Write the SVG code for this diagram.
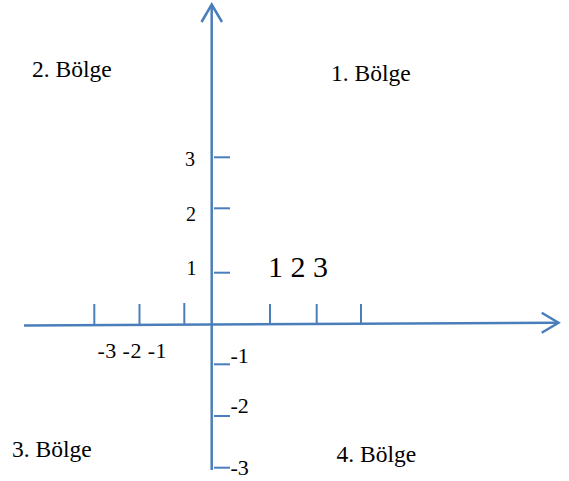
<svg xmlns="http://www.w3.org/2000/svg" width="569" height="481" viewBox="0 0 569 481">
<style>
.ax{stroke:#4a7ebb;stroke-width:2.5;fill:none;stroke-linecap:butt}
.tk{stroke:#4a7ebb;stroke-width:2;fill:none}
.t{font-family:"Liberation Serif","Times New Roman",serif;fill:#000}
.q{font-size:23.5px}
.n{font-size:20px}
.m{font-size:22px}
.big{font-size:30px}
</style>
<rect width="569" height="481" fill="#fff"/>
<g id="connectors">
<line class="ax" x1="211.7" y1="5" x2="211.7" y2="470"/>
<polyline class="ax" points="201.5,22 211.7,4.5 222,22"/>
<line class="ax" x1="24" y1="325.5" x2="557" y2="322.7"/>
<polyline class="ax" points="541.7,312.7 558.5,322.7 541.7,332.7"/>
</g>
<g id="ticks">
<line class="tk" x1="214" y1="157.3" x2="230" y2="157.3"/>
<line class="tk" x1="214" y1="208.3" x2="230" y2="208.3"/>
<line class="tk" x1="214" y1="272.7" x2="230" y2="272.7"/>
<line class="tk" x1="214" y1="364.3" x2="230" y2="364.3"/>
<line class="tk" x1="214" y1="416" x2="230" y2="416"/>
<line class="tk" x1="214" y1="467.7" x2="230" y2="467.7"/>
<line class="tk" x1="94.3" y1="304" x2="94.3" y2="325"/>
<line class="tk" x1="139.5" y1="304" x2="139.5" y2="325"/>
<line class="tk" x1="184.3" y1="303" x2="184.3" y2="324.5"/>
<line class="tk" x1="270" y1="304" x2="270" y2="324"/>
<line class="tk" x1="316.7" y1="304" x2="316.7" y2="323.5"/>
<line class="tk" x1="361" y1="304" x2="361" y2="323.3"/>
</g>
<g id="q2"><text class="t q" x="32" y="76.7">2. Bölge</text></g>
<g id="q1"><text class="t q" x="331" y="81">1. Bölge</text></g>
<g id="q3"><text class="t q" x="12" y="456.7">3. Bölge</text></g>
<g id="q4"><text class="t q" x="336.5" y="461.7">4. Bölge</text></g>
<g id="ylabels">
<text class="t n" x="185" y="166">3</text>
<text class="t n" x="186" y="221">2</text>
<text class="t n" x="186.5" y="275">1</text>
<text class="t m" x="230.5" y="362.7">-1</text>
<text class="t m" x="230.5" y="413.3">-2</text>
<text class="t m" x="230.5" y="475">-3</text>
</g>
<g id="xlabels">
<text class="t m" x="97.5" y="358.3" textLength="69">-3 -2 -1</text>
<text class="t big" x="268" y="277.3">1 2 3</text>
</g>
</svg>
